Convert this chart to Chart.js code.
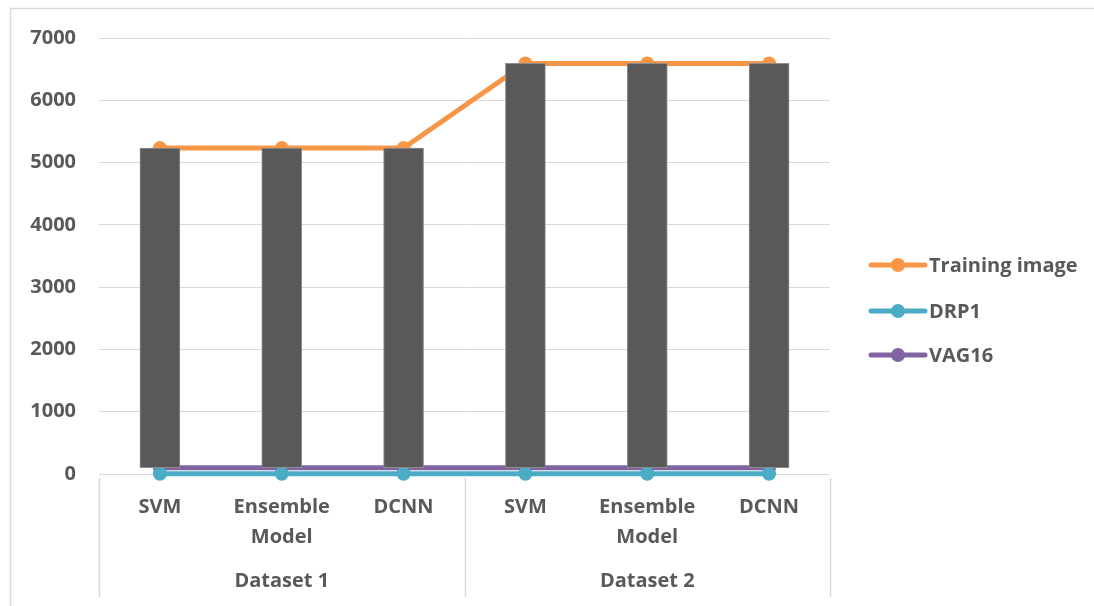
<!DOCTYPE html>
<html>
<head>
<meta charset="utf-8">
<script src="https://cdn.jsdelivr.net/npm/chart.js@4"></script>
<style>
  html, body { margin: 0; padding: 0; background: #fff; }
  #wrap { width: 1094px; height: 606px; position: relative; }
</style>
</head>
<body>
<div id="wrap"><canvas id="c" width="1094" height="606"></canvas></div>
<script>
// Models per dataset and the group they belong to
const categories = [['SVM'], ['Ensemble', 'Model'], ['DCNN'], ['SVM'], ['Ensemble', 'Model'], ['DCNN']];
const groups = ['Dataset 1', 'Dataset 2'];
const groupSizes = [3, 3];

// Series values
const trainingImage = [5232, 5232, 5232, 6592, 6592, 6592];
const drp1 = [5, 5, 5, 5, 5, 5];
const vag16 = [100, 100, 100, 100, 100, 100];

const yTicks = [0, 1000, 2000, 3000, 4000, 5000, 6000, 7000];

const TEXT = '#595959';
const GRID = '#D9D9D9';
const FONT = '"Open Sans", Lato, sans-serif';
const FSIZE = 20;

// Up/down bars spanning first series to last series
const upDown = vag16.map((v, i) => [v, trainingImage[i]]);

// Category group labels, separators, frame and legend
const decor = {
  id: 'decor',
  beforeDraw(chart) {
    const ctx = chart.ctx;
    ctx.save();
    ctx.strokeStyle = GRID;
    ctx.lineWidth = 1.5;
    ctx.beginPath();
    ctx.moveTo(10.5, 606);
    ctx.lineTo(10.5, 8.5);
    ctx.lineTo(1094, 8.5);
    ctx.stroke();
    ctx.restore();
  },
  afterDraw(chart) {
    const ctx = chart.ctx;
    const x = chart.scales.x;
    const area = chart.chartArea;
    const half = (x.getPixelForValue(1) - x.getPixelForValue(0)) / 2;
    ctx.save();
    // group separators
    ctx.strokeStyle = GRID;
    ctx.lineWidth = 1.5;
    let end = 0;
    const edges = [x.left];
    groupSizes.forEach(n => {
      end += n;
      edges.push(x.getPixelForValue(end - 1) + half);
    });
    edges.forEach(px => {
      ctx.beginPath();
      ctx.moveTo(Math.round(px) + 0.5, area.bottom + 4);
      ctx.lineTo(Math.round(px) + 0.5, 597);
      ctx.stroke();
    });
    // group labels
    ctx.fillStyle = TEXT;
    ctx.font = 'bold ' + FSIZE + 'px ' + FONT;
    ctx.textAlign = 'center';
    ctx.textBaseline = 'middle';
    groups.forEach((g, i) => {
      ctx.fillText(g, (edges[i] + edges[i + 1]) / 2, 581);
    });
    // legend
    const items = chart.data.datasets.filter(d => d.type === 'line');
    const ys = [265, 311, 355];
    items.forEach((d, i) => {
      const y = ys[i];
      ctx.strokeStyle = d.borderColor;
      ctx.lineWidth = 5;
      ctx.lineCap = 'round';
      ctx.beginPath();
      ctx.moveTo(871, y);
      ctx.lineTo(925, y);
      ctx.stroke();
      ctx.fillStyle = d.borderColor;
      ctx.beginPath();
      ctx.arc(898, y, 7, 0, Math.PI * 2);
      ctx.fill();
      ctx.fillStyle = TEXT;
      ctx.textAlign = 'left';
      ctx.fillText(d.label, 929, y + 1);
    });
    ctx.restore();
  }
};

const lineDs = (label, data, color, order) => ({
  type: 'line',
  label,
  data,
  borderColor: color,
  backgroundColor: color,
  borderWidth: 5,
  pointRadius: 7,
  pointHoverRadius: 7,
  pointBorderWidth: 0,
  pointBackgroundColor: color,
  tension: 0,
  clip: false,
  order
});

new Chart(document.getElementById('c'), {
  data: {
    labels: categories,
    datasets: [
      {
        type: 'bar',
        label: 'Up/Down',
        data: upDown,
        backgroundColor: '#595959',
        borderColor: '#8c8c8c',
        borderWidth: 1,
        borderSkipped: false,
        barThickness: 40,
        order: 0
      },
      lineDs('Training image', trainingImage, '#F79646', 1),
      lineDs('DRP1', drp1, '#4BACC6', 2),
      lineDs('VAG16', vag16, '#8064A2', 3)
    ]
  },
  options: {
    responsive: false,
    animation: false,
    layout: { padding: { left: 0, right: 264, top: 38, bottom: 0 } },
    plugins: { legend: { display: false }, tooltip: { enabled: false } },
    scales: {
      x: {
        offset: true,
        grid: { display: false, drawTicks: false },
        border: { display: false },
        ticks: {
          color: TEXT,
          font: { family: FONT, size: FSIZE, weight: 'bold', lineHeight: 1.5 },
          padding: 18,
          maxRotation: 0,
          autoSkip: false
        },
        afterFit(s) { s.height = 132; }
      },
      y: {
        min: 0,
        max: 7000,
        afterBuildTicks(s) { s.ticks = yTicks.map(v => ({ value: v })); },
        grid: { color: GRID, lineWidth: 1, drawTicks: false },
        border: { display: false },
        ticks: {
          color: TEXT,
          font: { family: FONT, size: FSIZE, weight: 'bold' },
          padding: 23,
          callback: v => String(v)
        },
        afterFit(s) { s.width = 99; }
      }
    }
  },
  plugins: [decor]
});
</script>
</body>
</html>
